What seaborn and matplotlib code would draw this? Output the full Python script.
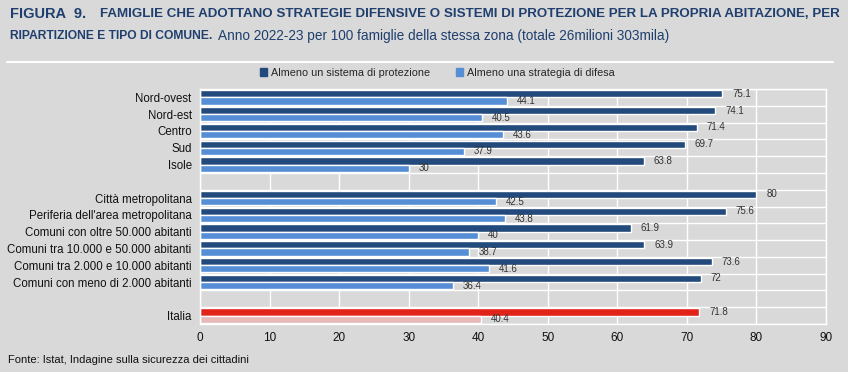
import pandas as pd
import seaborn as sns
import matplotlib.pyplot as plt
from matplotlib.lines import Line2D
from matplotlib.patches import Patch


# Dati (per 100 famiglie della stessa zona)
categorie = ["Nord-ovest", "Nord-est", "Centro", "Sud", "Isole",
             "Città metropolitana", "Periferia dell'area metropolitana",
             "Comuni con oltre 50.000 abitanti", "Comuni tra 10.000 e 50.000 abitanti",
             "Comuni tra 2.000 e 10.000 abitanti", "Comuni con meno di 2.000 abitanti",
             "Italia"]
protezione = [75.1, 74.1, 71.4, 69.7, 63.8, 80, 75.6, 61.9, 63.9, 73.6, 72, 71.8]
difesa = [44.1, 40.5, 43.6, 37.9, 30, 42.5, 43.8, 40, 38.7, 41.6, 36.4, 40.4]
serie = ["Almeno un sistema di protezione", "Almeno una strategia di difesa"]

# ordine con righe vuote di separazione
ordine = categorie[:5] + [" "] + categorie[5:11] + ["  "] + ["Italia"]

df = pd.DataFrame({"categoria": categorie * 2,
                   "valore": protezione + difesa,
                   "serie": [serie[0]] * len(categorie) + [serie[1]] * len(categorie)})

BG = "#d9d9d9"
DARK = "#234a7c"
LIGHT = "#558ed5"
RED = "#e2231a"
PINK = "#e6b8b8"

sns.set_style("white")
plt.rcParams["font.family"] = ["Liberation Sans", "DejaVu Sans"]

fig = plt.figure(figsize=(8.48, 3.72), dpi=100, facecolor=BG)
ax = fig.add_axes([200 / 848, 1 - 324 / 372, 626 / 848, 235 / 372])
ax.set_facecolor(BG)

sns.barplot(data=df, y="categoria", x="valore", hue="serie", order=ordine,
            hue_order=serie, palette=[DARK, LIGHT], orient="h", width=0.86,
            saturation=1, ax=ax, legend=False)

# Italia in rosso
for cont in ax.containers:
    for bar in cont:
        if abs(bar.get_y() + bar.get_height() / 2 - 13) < 0.5:
            bar.set_facecolor(RED if bar.get_facecolor()[2] < 0.6 else PINK)
    ax.bar_label(cont, labels=[f"{v:g}" for v in cont.datavalues], padding=7,
                 fontsize=7, color="#333333")

ax.set_xlim(0, 90)
ax.set_ylim(13.5, -0.5)
ax.set_xticks(range(0, 91, 10))
ax.set_xlabel("")
ax.set_ylabel("")
ax.set_yticks(range(14))
ax.set_yticks([k + 0.5 for k in range(-1, 14)], minor=True)
ax.tick_params(axis="y", which="major", length=0, labelsize=8.3, pad=6, labelcolor="#111111")
ax.tick_params(axis="y", which="minor", length=3, color="white", width=1)
ax.tick_params(axis="x", length=0, labelsize=8.5, pad=6, labelcolor="#111111")
ax.grid(axis="x", color="white", lw=1)
ax.grid(axis="y", which="minor", color="white", lw=1)
ax.set_axisbelow(True)
for s in ax.spines.values():
    s.set_color("white")
    s.set_linewidth(1)

handles = [Patch(color=DARK), Patch(color=LIGHT)]
fig.legend(handles, serie, loc="center", bbox_to_anchor=(437 / 848, 1 - 73 / 372),
           ncol=2, frameon=False, fontsize=7.8, handlelength=0.7, handleheight=0.7,
           handletextpad=0.3, columnspacing=2.4)

# Titolo: ogni pezzo adattato alla sua larghezza in pixel
tit = "#1f3f6e"
renderer = fig.canvas.get_renderer()


def fit_text(x0, x1, y, s, weight="normal"):
    t = fig.text(x0 / 848, 1 - y / 372, s, fontsize=10, fontweight=weight,
                 color=tit, va="center")
    w = t.get_window_extent(renderer).width
    t.set_fontsize(10 * (x1 - x0) / w)
    return t


fig.text(10 / 848, 1 - 14 / 372, "FIGURA  9.", fontsize=10.5, fontweight="bold",
         color=tit, va="center")
fit_text(100, 836, 14,
         "FAMIGLIE CHE ADOTTANO STRATEGIE DIFENSIVE O SISTEMI DI PROTEZIONE PER LA PROPRIA ABITAZIONE, PER",
         "bold")
fit_text(10, 213, 36, "RIPARTIZIONE E TIPO DI COMUNE.", "bold")
fit_text(218, 672, 36,
         "Anno 2022-23 per 100 famiglie della stessa zona (totale 26milioni 303mila)")

fig.add_artist(Line2D([7 / 848, 833 / 848], [1 - 62 / 372] * 2, color="white", lw=1.5))

fig.text(8 / 848, 1 - 360 / 372, "Fonte: Istat, Indagine sulla sicurezza dei cittadini",
         fontsize=8, color="#111111", va="center")

plt.savefig("out.png", dpi=100, facecolor=BG)
